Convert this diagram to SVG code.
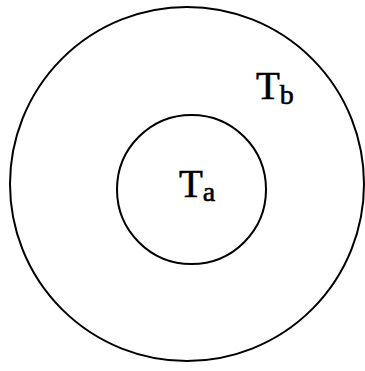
<svg xmlns="http://www.w3.org/2000/svg" width="365" height="371" viewBox="0 0 365 371">
<style>
.c{fill:none;stroke:#000;stroke-width:2}
.t{font-family:"Liberation Serif","Times New Roman",serif;font-size:39px;fill:#000;stroke:#000;stroke-width:0.6}
.s{font-size:28px}
</style>
<rect width="365" height="371" fill="#fff"/>
<g id="outer"><circle class="c" cx="187" cy="184" r="177"/>
<text class="t" x="256" y="99">T<tspan class="s" dy="5">b</tspan></text></g>
<g id="inner"><circle class="c" cx="191.5" cy="189.5" r="74.5"/>
<text class="t" x="179" y="197">T<tspan class="s" dy="4">a</tspan></text></g>
</svg>
